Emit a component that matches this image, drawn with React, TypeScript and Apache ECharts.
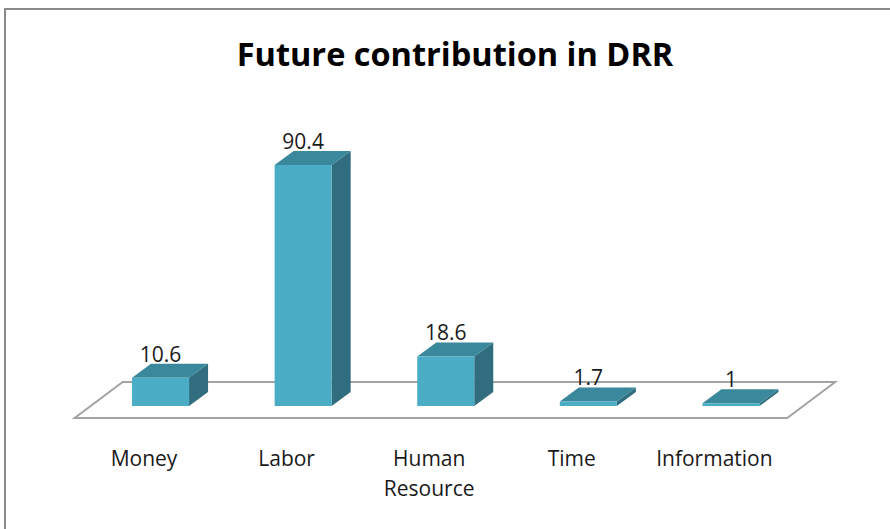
import React, { useEffect, useRef } from "react";
import * as echarts from "echarts";

const categories = ["Money", "Labor", "Human\nResource", "Time", "Information"];
const values = [10.6, 90.4, 18.6, 1.7, 1];
const chartTitle = "Future contribution in DRR";

const FRONT = "#4BACC6";
const TOP = "#3A889B";
const SIDE = "#306D7E";

export default function App() {
  const ref = useRef<HTMLDivElement>(null);
  useEffect(() => {
    if (!ref.current) return;
    const chart = echarts.init(ref.current, null, { renderer: "svg" });
    const DX = 19;
    const DY = -14;
    const option: any = {
      animation: false,
      backgroundColor: "#ffffff",
      title: {
        text: chartTitle,
        left: 450,
        top: 29,
        textAlign: "center",
        textStyle: {
          fontFamily: "Open Sans",
          fontWeight: "bold",
          fontSize: 32.5,
          color: "#000000",
          lineHeight: 38,
        },
      },
      graphic: [
        {
          type: "rect",
          shape: { x: 5, y: 9, width: 900, height: 540 },
          style: { fill: "none", stroke: "#8a8a8a", lineWidth: 2 },
          z: 100,
        },
      ],
      grid: { left: 72.7, right: 104.3, top: 151.3, bottom: 111 },
      xAxis: {
        type: "category",
        data: categories,
        axisLine: { show: false },
        axisTick: { show: false },
        axisLabel: {
          margin: 25,
          fontFamily: "Open Sans",
          fontSize: 21,
          color: "#1a1a1a",
          lineHeight: 30,
          interval: 0,
        },
      },
      yAxis: {
        type: "value",
        min: 0,
        max: 100,
        show: false,
        splitLine: { show: false },
      },
      series: [
        {
          type: "custom",
          silent: true,
          data: [[0, 0]],
          encode: { x: 0, y: 1 },
          z: 1,
          renderItem: (params: any, api: any) => {
            const cs = params.coordSys;
            const fy = cs.y + cs.height;
            const fl = cs.x + 2;
            const fr = cs.x + cs.width + 1.5;
            return {
              type: "polygon",
              shape: {
                points: [
                  [fl, fy],
                  [fr, fy],
                  [fr + 48, fy - 36],
                  [fl + 48, fy - 36],
                ],
              },
              style: { fill: "#ffffff", stroke: "#a3a3a3", lineWidth: 2 },
            };
          },
        },
        {
          type: "custom",
          silent: true,
          z: 2,
          data: values.map((v, i) => [i, v]),
          encode: { x: 0, y: 1 },
          renderItem: (params: any, api: any) => {
            const idx = api.value(0);
            const val = api.value(1);
            const base = api.coord([idx, 0]);
            const top = api.coord([idx, val]);
            const bw = api.size([1, 0])[0];
            const w = bw * 0.4;
            const cx = base[0] + bw * 0.116;
            const x0 = cx - w / 2;
            const x1 = cx + w / 2;
            const yb = base[1] - 12;
            const yt = top[1] - 12;
            return {
              type: "group",
              children: [
                {
                  type: "polygon",
                  shape: {
                    points: [
                      [x1, yt],
                      [x1 + DX, yt + DY],
                      [x1 + DX, yb + DY],
                      [x1, yb],
                    ],
                  },
                  style: { fill: SIDE },
                },
                {
                  type: "polygon",
                  shape: {
                    points: [
                      [x0, yt],
                      [x1, yt],
                      [x1 + DX, yt + DY],
                      [x0 + DX, yt + DY],
                    ],
                  },
                  style: { fill: TOP },
                },
                {
                  type: "rect",
                  shape: { x: x0, y: yt, width: w, height: yb - yt },
                  style: { fill: FRONT },
                },
                {
                  type: "text",
                  style: {
                    x: cx,
                    y: yt + DY - 10,
                    text: String(val),
                    align: "center",
                    verticalAlign: "middle",
                    fontFamily: "Open Sans",
                    fontSize: 21,
                    fill: "#1a1a1a",
                  },
                },
              ],
            };
          },
        },
      ],
    };
    chart.setOption(option);
    return () => chart.dispose();
  }, []);
  return (
    <div
      ref={ref}
      style={{ position: "fixed", left: 0, top: 0, width: 890, height: 529 }}
    />
  );
}
